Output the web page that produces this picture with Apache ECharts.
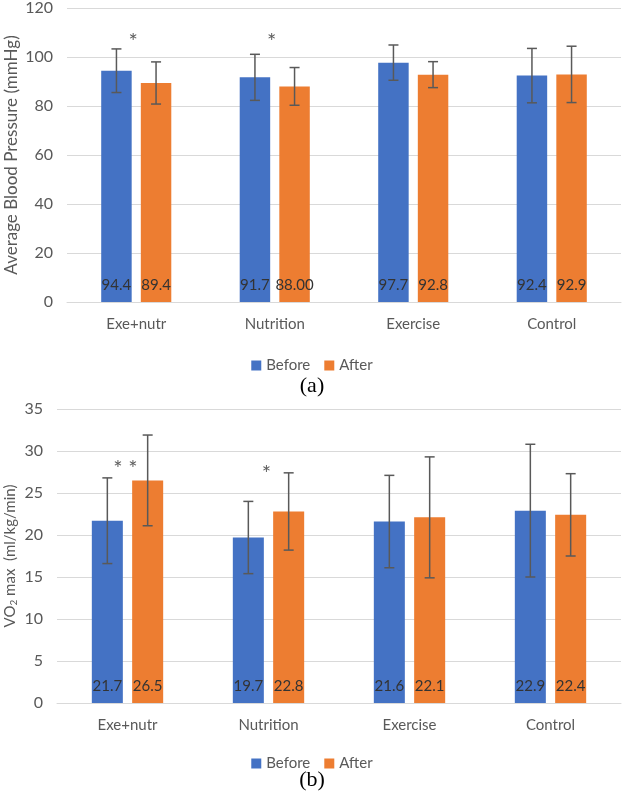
<!DOCTYPE html>
<html>
<head>
<meta charset="utf-8">
<script src="https://cdn.jsdelivr.net/npm/echarts@6/dist/echarts.min.js"></script>
<style>
html,body{margin:0;padding:0;background:#fff;}
#main{width:624px;height:794px;}
</style>
</head>
<body>
<div id="main"></div>
<script>
var groups = ['Exe+nutr', 'Nutrition', 'Exercise', 'Control'];

// (a) average blood pressure
var bpBefore = [94.4, 91.7, 97.7, 92.4];
var bpAfter = [89.4, 88.0, 92.8, 92.9];
var bpBeforeText = ['94.4', '91.7', '97.7', '92.4'];
var bpAfterText = ['89.4', '88.00', '92.8', '92.9'];
var bpBeforeSd = [8.9, 9.4, 7.2, 11.1];
var bpAfterSd = [8.6, 7.7, 5.3, 11.5];
var bpStarText = ['*', '*', '', ''];
var bpStarY = [106, 106, null, null];

// (b) VO2 max
var voBefore = [21.7, 19.7, 21.6, 22.9];
var voAfter = [26.5, 22.8, 22.1, 22.4];
var voBeforeSd = [5.1, 4.3, 5.5, 7.9];
var voAfterSd = [5.4, 4.6, 7.2, 4.9];
var voStarText = ['**', '*', '', ''];
var voStarY = [27.9, 27.3, null, null];

var BLUE = '#4472C4', ORANGE = '#ED7D31', GREY = '#595959';
var FONT = 'Lato';
var BW = 0.22, GAP = 0.30;

function errData(mean, sd) {
  return mean.map(function (m, i) { return [i, m, sd[i]]; });
}
function starData(ys) {
  return ys.map(function (y, i) { return y == null ? null : [i, y]; });
}

function errorSeries(mean, sd, side, gi) {
  return {
    type: 'custom',
    xAxisIndex: gi, yAxisIndex: gi,
    z: 5,
    silent: true,
    data: errData(mean, sd),
    renderItem: function (params, api) {
      var i = api.value(0), m = api.value(1), s = api.value(2);
      var band = api.size([1, 0])[0];
      var bw = band * BW;
      var off = side * (bw + bw * GAP) / 2;
      var top = api.coord([i, m + s]);
      var bot = api.coord([i, m - s]);
      var x = top[0] + off;
      var cap = 5;
      var st = { stroke: GREY, lineWidth: 1.5 };
      return {
        type: 'group',
        children: [
          { type: 'line', shape: { x1: x, y1: top[1], x2: x, y2: bot[1] }, style: st },
          { type: 'line', shape: { x1: x - cap, y1: top[1], x2: x + cap, y2: top[1] }, style: st },
          { type: 'line', shape: { x1: x - cap, y1: bot[1], x2: x + cap, y2: bot[1] }, style: st }
        ]
      };
    }
  };
}

function barSeries(name, color, vals, texts, gi) {
  return {
    name: name,
    type: 'bar',
    xAxisIndex: gi, yAxisIndex: gi,
    barWidth: (BW * 100) + '%',
    barGap: (GAP * 100) + '%',
    itemStyle: { color: color },
    data: vals,
    label: {
      show: true,
      position: 'insideBottom',
      distance: 9,
      color: '#333',
      fontFamily: FONT,
      fontSize: 15,
      formatter: function (p) { return texts ? texts[p.dataIndex] : p.value.toFixed(1); }
    }
  };
}

function starSeries(ys, texts, gi, dx) {
  return {
    type: 'scatter',
    xAxisIndex: gi, yAxisIndex: gi,
    symbolSize: 0,
    silent: true,
    data: starData(ys),
    label: {
      show: true,
      position: 'inside',
      offset: [dx, 0],
      color: '#333',
      fontFamily: FONT,
      fontSize: 22,
      formatter: function (p) { return texts[p.dataIndex].split('').join(' '); }
    }
  };
}

var xAx = function (gi) {
  return {
    type: 'category', gridIndex: gi, data: groups,
    axisLine: { lineStyle: { color: '#d9d9d9', width: 1 } },
    axisTick: { show: false },
    axisLabel: { color: GREY, fontFamily: FONT, fontSize: 15, margin: 15 }
  };
};

var myChart = echarts.init(document.getElementById('main'));
var option = {
  animation: false,
  backgroundColor: '#fff',
  title: [
    { text: '(a)', left: 'center', top: 370, textStyle: { fontFamily: 'Liberation Serif', fontWeight: 'normal', fontSize: 22, color: '#000' } },
    { text: '(b)', left: 'center', top: 764, textStyle: { fontFamily: 'Liberation Serif', fontWeight: 'normal', fontSize: 22, color: '#000' } }
  ],
  legend: [
    { data: ['Before', 'After'], top: 353, left: 'center', icon: 'rect', itemWidth: 10, itemHeight: 10, itemGap: 14,
      textStyle: { color: GREY, fontFamily: FONT, fontSize: 15 } },
    { data: ['Before', 'After'], top: 751, left: 'center', icon: 'rect', itemWidth: 10, itemHeight: 10, itemGap: 14,
      textStyle: { color: GREY, fontFamily: FONT, fontSize: 15 } }
  ],
  grid: [
    { left: 67, right: 3, top: 8, bottom: 492, containLabel: false, outerBoundsMode: 'none' },
    { left: 57, right: 3, top: 409, bottom: 91, containLabel: false, outerBoundsMode: 'none' }
  ],
  xAxis: [xAx(0), xAx(1)],
  yAxis: [
    {
      type: 'value', gridIndex: 0, min: 0, max: 120, interval: 20,
      name: 'Average Blood Pressure (mmHg)', nameLocation: 'middle', nameGap: 47, nameMoveOverlap: false,
      nameTextStyle: { color: GREY, fontFamily: FONT, fontSize: 17 },
      axisLine: { show: false }, axisTick: { show: false },
      axisLabel: { color: GREY, fontFamily: FONT, fontSize: 16, margin: 14 },
      splitLine: { lineStyle: { color: '#d9d9d9' } }
    },
    {
      type: 'value', gridIndex: 1, min: 0, max: 35, interval: 5,
      name: '{a|VO}{s|2}{a| max  (ml/kg/min)}', nameLocation: 'middle', nameGap: 38, nameMoveOverlap: false,
      nameTextStyle: {
        color: GREY, fontFamily: FONT, fontSize: 15,
        rich: {
          a: { color: GREY, fontFamily: FONT, fontSize: 15 },
          s: { color: GREY, fontFamily: FONT, fontSize: 10, verticalAlign: 'bottom', padding: [8, 0, 0, 0] }
        }
      },
      axisLine: { show: false }, axisTick: { show: false },
      axisLabel: { color: GREY, fontFamily: FONT, fontSize: 16, margin: 14 },
      splitLine: { lineStyle: { color: '#d9d9d9' } }
    }
  ],
  series: [
    barSeries('Before', BLUE, bpBefore, bpBeforeText, 0),
    barSeries('After', ORANGE, bpAfter, bpAfterText, 0),
    errorSeries(bpBefore, bpBeforeSd, -1, 0),
    errorSeries(bpAfter, bpAfterSd, 1, 0),
    starSeries(bpStarY, bpStarText, 0, -3),
    barSeries('Before', BLUE, voBefore, null, 1),
    barSeries('After', ORANGE, voAfter, null, 1),
    errorSeries(voBefore, voBeforeSd, -1, 1),
    errorSeries(voAfter, voAfterSd, 1, 1),
    starSeries(voStarY, voStarText, 1, -2)
  ]
};
myChart.setOption(option);
</script>
</body>
</html>
